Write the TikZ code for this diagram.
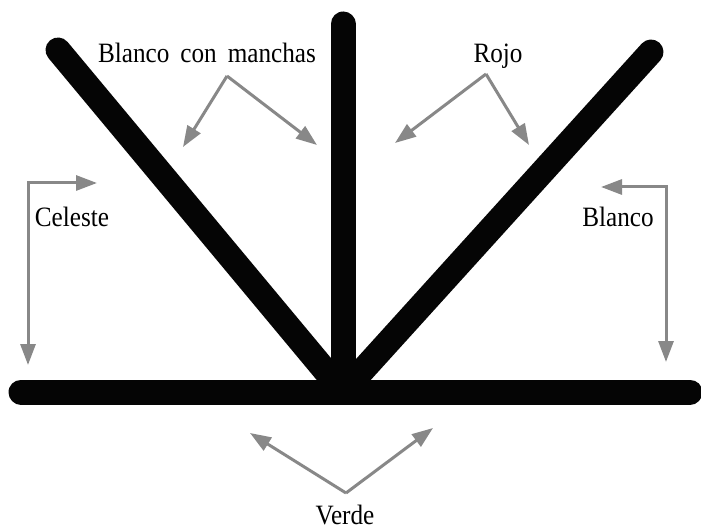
\documentclass[tikz,border=0pt]{standalone}
\usepackage{fontspec}
\setmainfont[FakeStretch=0.9]{Liberation Serif}
\usetikzlibrary{arrows.meta}
\definecolor{arrowgray}{HTML}{888888}
\definecolor{barblack}{HTML}{050505}
\begin{document}
\begin{tikzpicture}[x=1pt,y=-1pt,
  bar/.style={draw=barblack, line width=25pt, line cap=round},
  pointer/.style={draw=arrowgray, line width=3pt, -{Triangle[length=21pt,width=15pt]}},
  dpointer/.style={draw=arrowgray, line width=3pt, {Triangle[length=21pt,width=15pt]}-{Triangle[length=21pt,width=15pt]}},
  lbl/.style={font=\fontsize{28}{32}\selectfont, inner sep=0pt, anchor=base, text=black}]
\useasboundingbox (0,0) rectangle (701,529);
\clip (0,0) rectangle (701,529);

% main bars
\coordinate (hub) at (343,392);
\coordinate (hleft) at (21,392);
\coordinate (hright) at (690,392);
\coordinate (vtop) at (343,24);
\coordinate (dltop) at (58,50);
\coordinate (drtop) at (651,52);
\draw[bar] (hleft) -- (hright);
\draw[bar] (vtop) -- (hub);
\draw[bar] (dltop) -- (hub);
\draw[bar] (drtop) -- (hub);

% labels
\node[lbl] (bcm) at (207,63) {\spaceskip=11pt Blanco con manchas};
\node[lbl] (rojo) at (498,63) {Rojo};
\node[lbl] (celeste) at (72,227) {Celeste};
\node[lbl] (blanco) at (618,227) {Blanco};
\node[lbl] (verde) at (345,524) {Verde};

% Blanco con manchas pointers
\coordinate (bcmapex) at (227,76);
\coordinate (bcmA) at (183,147);
\coordinate (bcmB) at (317,145);
\draw[pointer] (bcmapex) -- (bcmA);
\draw[pointer] (bcmapex) -- (bcmB);

% Rojo pointers
\coordinate (rojoapex) at (486,74);
\coordinate (rojoA) at (395,143);
\coordinate (rojoB) at (529,145);
\draw[pointer] (rojoapex) -- (rojoA);
\draw[pointer] (rojoapex) -- (rojoB);

% Celeste pointers
\coordinate (celA) at (97,183);
\coordinate (celcorner) at (28,183);
\coordinate (celB) at (28,365);
\draw[dpointer] (celA) -- (celcorner) -- (celB);

% Blanco pointers
\coordinate (blaA) at (601,187);
\coordinate (blacorner) at (666,187);
\coordinate (blaB) at (666,362);
\draw[dpointer] (blaA) -- (blacorner) -- (blaB);

% Verde pointers
\coordinate (verdeapex) at (346,493);
\coordinate (verdeA) at (250,433);
\coordinate (verdeB) at (433,428);
\draw[pointer] (verdeapex) -- (verdeA);
\draw[pointer] (verdeapex) -- (verdeB);
\end{tikzpicture}
\end{document}
